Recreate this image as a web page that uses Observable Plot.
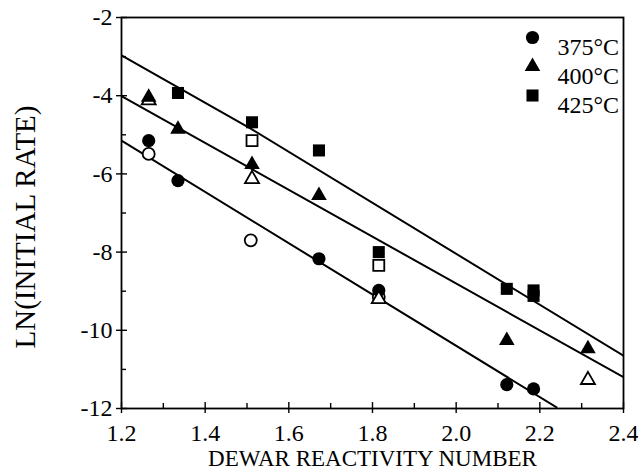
<!DOCTYPE html>
<html>
<head>
<meta charset="utf-8">
<script src="https://cdn.jsdelivr.net/npm/d3@7"></script>
<script src="https://cdn.jsdelivr.net/npm/@observablehq/plot@0.6"></script>
<style>
  html, body { margin: 0; padding: 0; background: #fff; }
  #chart svg { display: block; }
  #chart svg, #chart svg text { font-family: "Liberation Serif", "Times New Roman", serif !important; }
</style>
</head>
<body>
<div id="chart"></div>
<script>
// ---- data ----
const xTicks = [1.2, 1.4, 1.6, 1.8, 2.0, 2.2, 2.4];
const xMinor = [1.3, 1.5, 1.7, 1.9, 2.1, 2.3];
const yTicks = [-2, -4, -6, -8, -10, -12];
const yMinor = [-3, -5, -7, -9, -11];

const xTitle = "DEWAR REACTIVITY NUMBER";
const yTitle = "LN(INITIAL RATE)";
const legendLabels = ["375°C", "400°C", "425°C"];
const symbols = ["circle", "triangle", "square"];

// 375 °C
const x375Filled = [1.265, 1.335, 1.672, 1.815, 2.121, 2.185];
const y375Filled = [-5.15, -6.17, -8.17, -8.98, -11.39, -11.50];
const x375Open = [1.265, 1.509, 1.815];
const y375Open = [-5.49, -7.70, -9.15];
// 400 °C
const x400Filled = [1.265, 1.335, 1.512, 1.672, 2.121, 2.315];
const y400Filled = [-4.04, -4.86, -5.76, -6.55, -10.26, -10.47];
const x400Open = [1.265, 1.512, 1.815, 2.315];
const y400Open = [-4.12, -6.13, -9.20, -11.27];
// 425 °C
const x425Filled = [1.335, 1.512, 1.672, 1.815, 2.121, 2.185, 2.185];
const y425Filled = [-3.93, -4.68, -5.40, -8.00, -8.94, -8.98, -9.12];
const x425Open = [1.512, 1.815];
const y425Open = [-5.15, -8.34];

// fitted lines
const fitX375 = [1.2, 2.24];
const fitY375 = [-5.15, -11.97];
const fitX400 = [1.2, 2.4];
const fitY400 = [-4.01, -11.20];
const fitX425 = [1.2, 1.51, 2.4];
const fitY425 = [-2.97, -4.85, -10.65];

// ---- build tables ----
const pts = (xs, ys) => xs.map((x, i) => ({x, y: ys[i]}));
const series = [
  {filled: pts(x375Filled, y375Filled), open: pts(x375Open, y375Open), fit: pts(fitX375, fitY375), r: 6.6},
  {filled: pts(x400Filled, y400Filled), open: pts(x400Open, y400Open), fit: pts(fitX400, fitY400), r: 5.8},
  {filled: pts(x425Filled, y425Filled), open: pts(x425Open, y425Open), fit: pts(fitX425, fitY425), r: 6.8}
];

const font = "Liberation Serif, Times New Roman, serif";
const marks = [];

series.forEach((s) => {
  marks.push(Plot.line(s.fit, {x: "x", y: "y", stroke: "#000", strokeWidth: 2, clip: true}));
});
series.forEach((s, i) => {
  marks.push(Plot.dot(s.open, {x: "x", y: "y", symbol: () => symbols[i], r: s.r - 0.6, fill: "#fff", stroke: "#000", strokeWidth: 1.8}));
  marks.push(Plot.dot(s.filled, {x: "x", y: "y", symbol: () => symbols[i], r: s.r, fill: "#000", stroke: "none"}));
});

// legend (top-right inside the frame)
legendLabels.forEach((lab, i) => {
  marks.push(Plot.dot([lab], {frameAnchor: "top-right", dx: -91, dy: 20 + i * 29, symbol: () => symbols[i], r: series[i].r, fill: "#000"}));
  marks.push(Plot.text([lab], {frameAnchor: "top-right", dx: -66, dy: 20 + i * 29, text: d => d, textAnchor: "start", fontSize: 24, fill: "#000"}));
});

// axes
marks.push(Plot.axisX({ticks: xTicks, tickFormat: d3.format(".1f"), tickSize: 5, tickPadding: 10, fontSize: 24, label: null, strokeWidth: 1.4}));
marks.push(Plot.axisX({ticks: xTicks, tickSize: -6, text: null, label: null, strokeWidth: 1.4}));
marks.push(Plot.axisX({ticks: xMinor, tickSize: -5, text: null, label: null, strokeWidth: 1.4}));

marks.push(Plot.axisY({ticks: yTicks, tickFormat: d => String(d), tickSize: 5, tickPadding: 4, fontSize: 24, label: null, strokeWidth: 1.4}));
marks.push(Plot.axisY({ticks: yTicks, tickSize: -6, text: null, label: null, strokeWidth: 1.4}));
marks.push(Plot.axisY({ticks: yMinor, tickSize: -5, text: null, label: null, strokeWidth: 1.4}));

// axis titles
marks.push(Plot.text([xTitle], {frameAnchor: "bottom", dy: 50, text: d => d, textAnchor: "middle", lineAnchor: "middle", fontSize: 23, fill: "#000"}));
marks.push(Plot.text([yTitle], {frameAnchor: "left", dx: -96, dy: 14, rotate: -90, text: d => d, textAnchor: "middle", lineAnchor: "middle", fontSize: 29, fill: "#000"}));

marks.push(Plot.frame({stroke: "#000", strokeWidth: 1.8}));

const chart = Plot.plot({
  width: 638,
  height: 475,
  marginLeft: 121,
  marginRight: 15,
  marginTop: 17,
  marginBottom: 67,
  x: {domain: [1.2, 2.4]},
  y: {domain: [-12, -2]},
  style: {fontFamily: font, color: "#000", background: "#fff"},
  marks
});
document.getElementById("chart").appendChild(chart);
</script>
</body>
</html>
